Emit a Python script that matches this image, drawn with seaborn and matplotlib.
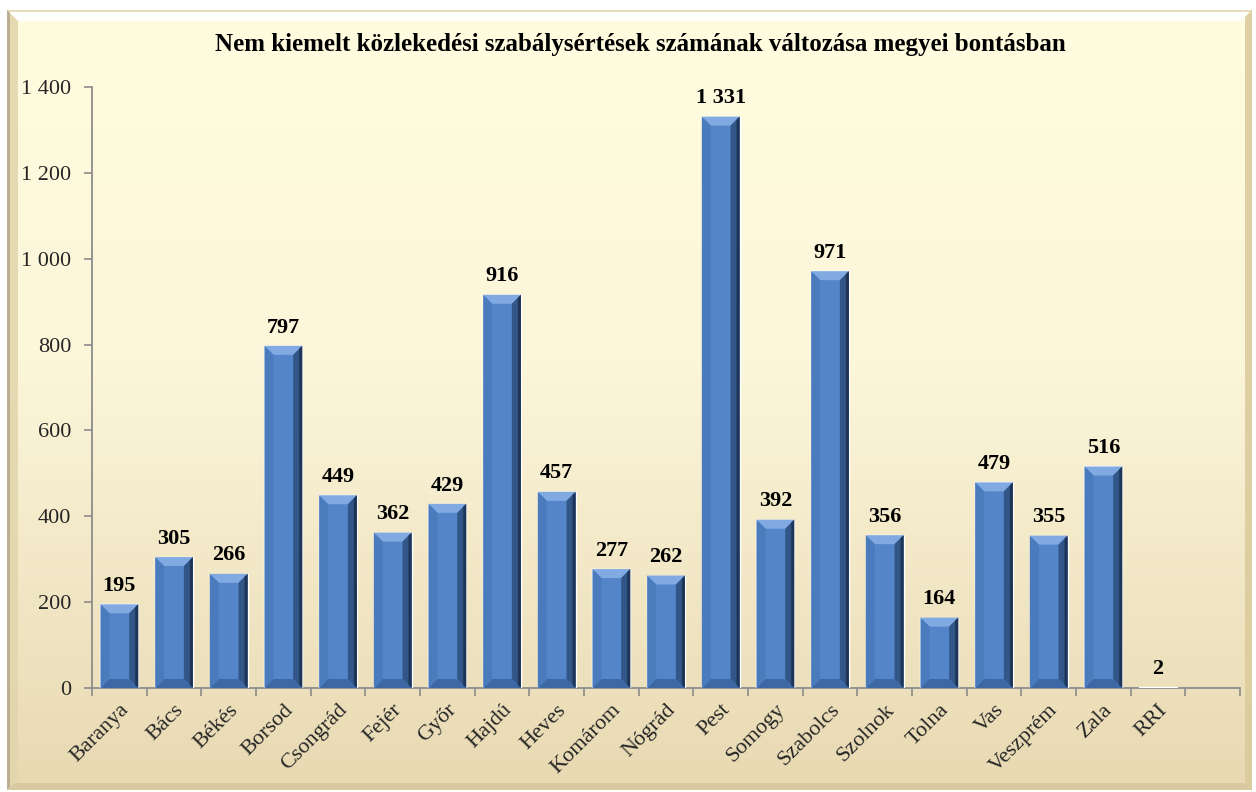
import numpy as np
import pandas as pd
import matplotlib
matplotlib.use("Agg")
import matplotlib.pyplot as plt
from matplotlib.patches import Polygon
import matplotlib.colors as mcolors
import seaborn as sns

# ---- data ----
categories = ["Baranya", "Bács", "Békés", "Borsod", "Csongrád", "Fejér", "Győr",
              "Hajdú", "Heves", "Komárom", "Nógrád", "Pest", "Somogy", "Szabolcs",
              "Szolnok", "Tolna", "Vas", "Veszprém", "Zala", "RRI"]
values = [195, 305, 266, 797, 449, 362, 429, 916, 457, 277, 262, 1331, 392, 971,
          356, 164, 479, 355, 516, 2]
y_ticks = [0, 200, 400, 600, 800, 1000, 1200, 1400]
title = "Nem kiemelt közlekedési szabálysértések számának változása megyei bontásban"

sns.set_theme(style="white")
plt.rcParams["font.family"] = ["Liberation Serif", "DejaVu Serif"]

W, H = 1256, 792
fig = plt.figure(figsize=(W / 100, H / 100), dpi=100)
fig.patch.set_facecolor("white")

def fx(px):
    return px / W

def fy(py):
    return 1 - py / H

# ---- background panel with vertical gradient ----
L, T, R, B = 7, 10, 1252, 790
bg = fig.add_axes([fx(L), fy(B), fx(R - L), (B - T) / H], zorder=-10)
bg.set_axis_off()
top_c = np.array(mcolors.to_rgb("#FFFCE0"))
mid_c = np.array(mcolors.to_rgb("#FCF6DA"))
bot_c = np.array(mcolors.to_rgb("#E8D9B2"))
t = np.linspace(0, 1, 256)[:, None]
grad = np.where(t < 0.45,
                top_c + (mid_c - top_c) * (t / 0.45),
                mid_c + (bot_c - mid_c) * ((t - 0.45) / 0.55))
bg.imshow(grad[:, None, :].repeat(2, axis=1), aspect="auto",
          extent=[0, 1, 0, 1], interpolation="bilinear")
bg.set_xlim(0, 1)
bg.set_ylim(0, 1)

def fpoly(pts, color, alpha=1.0, z=-5):
    p = Polygon([(fx(a), fy(b)) for a, b in pts], closed=True,
                transform=fig.transFigure, facecolor=color, edgecolor="none",
                alpha=alpha, zorder=z)
    fig.patches.append(p)

bv = 11
# top highlight
fpoly([(L, T), (R, T), (R - bv, T + bv), (L + bv, T + bv)], "#FFFFFF", 0.95)
fpoly([(L, T), (R, T), (R, T + 2), (L, T + 2)], "#E8DCC0", 1.0)
# left shade
fpoly([(L, T), (L + bv, T + bv), (L + bv, B - bv), (L, B)], "#E3D6AE", 0.9)
fpoly([(L, T), (L + 3, T + 3), (L + 3, B - 3), (L, B)], "#B9AE92", 1.0)
# right shade
fpoly([(R, T), (R - bv + 4, T + bv - 4), (R - bv + 4, B - bv + 4), (R, B)], "#DCCB9C", 0.9)
# bottom shade
fpoly([(L, B), (R, B), (R - bv + 4, B - bv + 4), (L + bv - 4, B - bv + 4)], "#D8C8A0", 0.9)

# ---- main axes ----
ax = fig.add_axes([fx(92), fy(688), fx(1240 - 92), (688 - 87) / H])
ax.patch.set_alpha(0)

df = pd.DataFrame({"megye": categories, "ertek": values})
sns.barplot(data=df, x="megye", y="ertek", color="#5385C8", saturation=1,
            width=0.69, ax=ax, zorder=3)

n_slots = len(categories) + 1
ax.set_xlim(-0.5, n_slots - 0.5)
ax.set_ylim(0, 1400)
ax.set_yticks(y_ticks)
ax.set_yticklabels([f"{v:,}".replace(",", " ") for v in y_ticks], fontsize=16)
ax.set_xticks(range(len(categories)))
ax.set_xticklabels(categories, rotation=45, ha="right", va="top",
                   rotation_mode="anchor", fontsize=16)
ax.set_xticks(np.arange(-0.5, n_slots, 1.0), minor=True)
ax.tick_params(axis="x", which="major", length=0, pad=9)
ax.tick_params(axis="x", which="minor", length=6, width=1.2, color="#8C8C8C",
               direction="out", bottom=True)
ax.tick_params(axis="y", length=6, width=1.2, color="#8C8C8C", direction="out",
               left=True, pad=9)
ax.set_xlabel("")
ax.set_ylabel("")
for s in ["top", "right"]:
    ax.spines[s].set_visible(False)
for s in ["left", "bottom"]:
    ax.spines[s].set_color("#8C8C8C")
    ax.spines[s].set_linewidth(1.3)
ax.grid(False)

# ---- bevel effect on bars ----
to_disp = ax.transData
to_data = ax.transData.inverted()
bars = [p for p in ax.patches]
for p in bars:
    x0, y0 = p.get_x(), p.get_y()
    x1, y1 = x0 + p.get_width(), y0 + p.get_height()
    (dx0, dy0) = to_disp.transform((x0, y0))
    (dx1, dy1) = to_disp.transform((x1, y1))
    b = min(9.0, (dy1 - dy0) / 2.0, (dx1 - dx0) / 2.0)
    if b <= 0.5:
        continue
    def D(px, py):
        return tuple(to_data.transform((px, py)))
    faces = [
        ([D(dx0, dy1), D(dx1, dy1), D(dx1 - b, dy1 - b), D(dx0 + b, dy1 - b)], "#82AAE2"),
        ([D(dx1, dy1), D(dx1, dy0), D(dx1 - b, dy0 + b), D(dx1 - b, dy1 - b)], "#335688"),
        ([D(dx0, dy0), D(dx1, dy0), D(dx1 - b, dy0 + b), D(dx0 + b, dy0 + b)], "#3D68A3"),
        ([D(dx0, dy0), D(dx0, dy1), D(dx0 + b, dy1 - b), D(dx0 + b, dy0 + b)], "#4A7BBD"),
    ]
    for pts, col in faces:
        ax.add_patch(Polygon(pts, closed=True, facecolor=col, edgecolor="none", zorder=4))
    # darker outer right edge
    ax.add_patch(Polygon([D(dx1 - 3, dy1 - 3), D(dx1, dy1), D(dx1, dy0), D(dx1 - 3, dy0 + 3)],
                         closed=True, facecolor="#1E3556", edgecolor="none", zorder=4))

# ---- data labels ----
for i, v in enumerate(values):
    ax.annotate(f"{v:,}".replace(",", " "), xy=(i, v), xytext=(0, 6),
                textcoords="offset points", ha="center", va="bottom",
                fontsize=16, fontweight="bold", color="black", zorder=5)

# ---- title ----
fig.text(fx(640), fy(45), title, ha="center", va="center",
         fontsize=18, fontweight="bold", color="black")

fig.savefig("out.png", dpi=100, facecolor=fig.get_facecolor())
